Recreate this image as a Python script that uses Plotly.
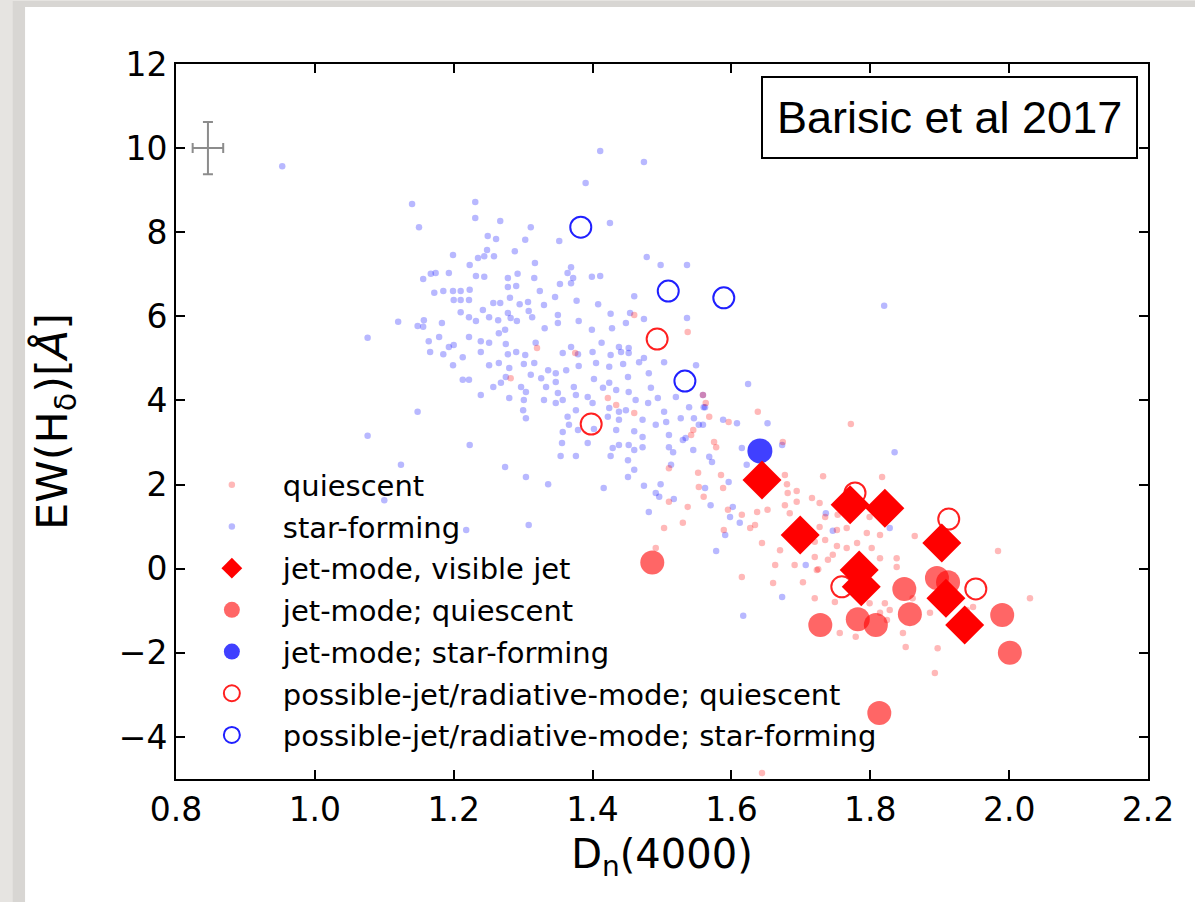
import plotly.graph_objects as go

# ---------------- data ----------------
sf_x = [0.953, 1.140, 1.150, 1.199, 1.156, 1.167, 1.174, 1.193, 1.172, 1.185, 1.199, 1.200, 1.120, 1.148,
        1.156, 1.157, 1.183, 1.076, 1.164, 1.179, 1.193, 1.200, 1.166, 1.185, 1.199, 1.148, 1.076, 1.124,
        1.100, 1.411, 1.474, 1.390, 1.231, 1.231, 1.267, 1.311, 1.425, 1.249, 1.261, 1.303, 1.352, 1.248,
        1.288, 1.235, 1.244, 1.258, 1.223, 1.317, 1.478, 1.498, 1.536, 1.369, 1.364, 1.372, 1.369, 1.353,
        1.399, 1.411, 1.232, 1.244, 1.278, 1.292, 1.316, 1.290, 1.278, 1.324, 1.346, 1.377, 1.408, 1.460,
        1.210, 1.223, 1.210, 1.222, 1.281, 1.295, 1.307, 1.330, 1.257, 1.267, 1.242, 1.251, 1.264, 1.278,
        1.282, 1.210, 1.222, 1.232, 1.308, 1.313, 1.291, 1.350, 1.350, 1.380, 1.426, 1.454, 1.448, 1.474,
        1.536, 1.274, 1.265, 1.331, 1.399, 1.428, 1.222, 1.239, 1.251, 1.275, 1.318, 1.369, 1.413, 1.438,
        1.452, 1.213, 1.239, 1.278, 1.290, 1.303, 1.357, 1.379, 1.400, 1.426, 1.441, 1.452, 1.474, 1.503,
        1.549, 1.251, 1.265, 1.280, 1.301, 1.316, 1.336, 1.347, 1.362, 1.380, 1.405, 1.424, 1.444, 1.467,
        1.481, 1.213, 1.222, 1.275, 1.311, 1.326, 1.347, 1.402, 1.424, 1.451, 1.239, 1.257, 1.268, 1.297,
        1.304, 1.333, 1.350, 1.357, 1.373, 1.376, 1.393, 1.415, 1.434, 1.452, 1.484, 1.280, 1.301, 1.330,
        1.347, 1.400, 1.424, 1.438, 1.448, 1.462, 1.480, 1.494, 1.503, 1.520, 1.539, 1.560, 1.300, 1.304,
        1.364, 1.376, 1.422, 1.438, 1.472, 1.491, 1.506, 1.527, 1.546, 1.553, 1.588, 1.357, 1.366, 1.379,
        1.402, 1.434, 1.460, 1.472, 1.510, 1.530, 1.534, 1.545, 1.568, 1.223, 1.356, 1.393, 1.429, 1.438,
        1.452, 1.460, 1.472, 1.510, 1.516, 1.354, 1.376, 1.426, 1.451, 1.513, 1.274, 1.460, 1.304, 1.336,
        1.451, 1.416, 1.474, 1.498, 1.491, 1.496, 1.517, 1.570, 1.596, 1.602, 1.481, 1.591, 1.578, 1.308,
        1.218, 1.624, 1.559, 1.562, 1.559, 1.608, 1.652, 1.615, 1.673, 1.572, 1.622, 1.562, 1.598, 1.612,
        1.736, 1.746, 1.828, 1.707, 1.673, 1.617, 1.835, 1.820]
sf_y = [9.57, 8.67, 8.12, 7.46, 6.89, 7.01, 7.03, 7.03, 6.56, 6.60, 6.60, 6.39, 5.87, 5.77,
        5.75, 5.91, 5.84, 5.49, 5.41, 5.51, 5.27, 5.32, 5.15, 5.10, 4.84, 3.73, 3.16, 2.47,
        1.63, 9.93, 9.67, 9.17, 8.72, 8.34, 8.27, 8.12, 8.22, 7.91, 7.84, 7.82, 7.79, 7.58,
        7.55, 7.39, 7.43, 7.43, 7.22, 7.27, 7.41, 7.22, 7.22, 7.17, 7.03, 6.91, 6.79, 6.77,
        6.94, 6.96, 6.96, 6.94, 6.91, 7.01, 6.91, 6.72, 6.70, 6.60, 6.46, 6.37, 6.29, 6.48,
        6.60, 6.63, 6.39, 6.39, 6.44, 6.29, 6.34, 6.27, 6.32, 6.32, 6.15, 5.98, 5.91, 6.08,
        5.96, 6.10, 5.98, 5.89, 6.13, 5.98, 5.89, 6.03, 5.84, 5.89, 6.06, 6.08, 5.84, 5.94,
        5.96, 5.68, 5.60, 5.72, 5.68, 5.72, 5.51, 5.41, 5.37, 5.34, 5.37, 5.27, 5.37, 5.27,
        5.25, 5.03, 5.15, 5.10, 5.15, 5.08, 5.13, 5.10, 5.15, 5.08, 5.15, 5.13, 5.01, 4.91,
        4.84, 4.84, 4.89, 4.77, 4.87, 4.89, 4.72, 4.65, 4.72, 4.82, 4.89, 4.80, 4.87, 4.91,
        4.65, 4.49, 4.49, 4.56, 4.61, 4.53, 4.44, 4.51, 4.42, 4.56, 4.13, 4.32, 4.42, 4.32,
        4.20, 4.32, 4.18, 4.01, 4.32, 4.13, 4.08, 4.30, 4.25, 4.20, 4.30, 4.06, 4.01, 4.01,
        3.94, 3.94, 3.82, 3.73, 3.77, 4.01, 3.94, 4.06, 3.73, 4.08, 3.84, 3.84, 3.77, 3.58,
        3.61, 3.77, 3.61, 3.54, 3.54, 3.42, 3.49, 3.58, 3.58, 3.42, 3.54, 3.25, 3.42, 3.30,
        3.32, 3.30, 3.27, 3.13, 3.18, 3.06, 3.11, 2.82, 2.66, 2.94, 2.99, 2.99, 2.87, 2.94,
        2.94, 2.82, 2.89, 2.89, 2.77, 2.68, 2.68, 2.68, 2.58, 2.47, 2.42, 2.35, 2.18, 2.01,
        2.18, 1.92, 1.97, 2.01, 1.80, 1.71, 1.66, 1.51, 2.06, 1.47, 1.35, 0.80, 0.42, 1.04,
        0.92, 4.39, 4.13, 3.84, 3.42, 3.46, 3.46, 2.87, 2.94, 2.54, 2.47, 1.92, 1.23, 1.09,
        1.32, 0.90, 0.97, 0.09, -0.67, -1.12, 2.77, 6.25]

q_x = [1.460, 1.537, 1.320, 1.375, 1.282, 1.422, 1.434, 1.460, 1.559, 1.563, 1.568, 1.596, 1.545, 1.542,
       1.575, 1.578, 1.510, 1.552, 1.585, 1.553, 1.588, 1.560, 1.510, 1.537, 1.595, 1.530, 1.503, 1.589,
       1.491, 1.638, 1.772, 1.674, 1.677, 1.732, 1.817, 1.680, 1.681, 1.694, 1.677, 1.694, 1.716, 1.727,
       1.615, 1.637, 1.652, 1.627, 1.634, 1.644, 1.684, 1.735, 1.753, 1.727, 1.752, 1.766, 1.799, 1.795,
       1.814, 1.781, 1.802, 1.864, 1.984, 1.720, 1.735, 1.752, 1.766, 1.746, 1.720, 1.739, 1.670, 1.663,
       1.691, 1.723, 1.814, 1.838, 1.838, 1.615, 1.660, 1.703, 1.720, 1.749, 1.799, 1.821, 1.828, 1.814,
       1.824, 1.861, 1.886, 2.030, 1.939, 1.948, 1.756, 1.779, 1.847, 1.851, 1.897, 1.893, 1.644, 1.725]
q_y = [6.03, 5.63, 5.25, 5.13, 4.53, 4.06, 3.89, 3.70, 4.13, 3.94, 3.61, 3.49, 3.30, 3.18,
       3.01, 2.89, 2.39, 2.28, 2.23, 1.94, 1.92, 1.71, 1.59, 1.47, 1.40, 1.09, 0.97, 0.92,
       0.49, 3.73, 3.44, 3.01, 2.23, 2.20, 2.18, 2.01, 1.80, 1.85, 1.51, 1.59, 1.68, 1.56,
       1.28, 1.35, 1.40, 0.97, 1.04, 0.61, 1.32, 1.23, 1.28, 0.99, 0.92, 0.97, 1.23, 0.85,
       0.80, 0.61, 0.49, 0.78, 0.42, 0.64, 0.68, 0.54, 0.49, 0.33, 0.28, 0.21, 0.44, 0.09,
       0.09, -0.03, 0.25, 0.25, 0.04, -0.20, -0.34, -0.32, -0.70, -0.79, -0.82, -0.82, -0.98, -1.05,
       -1.22, -0.70, -1.05, -0.70, -0.98, -0.91, -1.53, -1.62, -1.53, -1.86, -1.89, -2.48, -4.86, -0.01]

jet_vis_x = [1.644, 1.699, 1.771, 1.821, 1.903, 1.784, 1.787, 1.909, 1.936]
jet_vis_y = [2.11, 0.80, 1.52, 1.44, 0.61, -0.03, -0.43, -0.70, -1.34]

jet_q_x = [1.486, 1.728, 1.782, 1.808, 1.849, 1.857, 1.896, 1.912, 1.990, 2.001, 1.813]
jet_q_y = [0.15, -1.34, -1.20, -1.34, -0.48, -1.08, -0.22, -0.32, -1.10, -2.00, -3.43]

jet_sf_x = [1.641]
jet_sf_y = [2.80]

pos_q_x = [1.493, 1.398, 1.778, 1.913, 1.952, 1.759]
pos_q_y = [5.46, 3.44, 1.80, 1.18, -0.48, -0.43]

pos_sf_x = [1.383, 1.509, 1.589, 1.533]
pos_sf_y = [8.12, 6.60, 6.44, 4.46]

err_x, err_y = [0.846], [10.0]
err_dx, err_dy = [0.022], [0.62]

legend_names = ["quiescent", "star-forming", "jet-mode, visible jet", "jet-mode; quiescent",
                "jet-mode; star-forming", "possible-jet/radiative-mode; quiescent",
                "possible-jet/radiative-mode; star-forming"]

x_ticks = [0.8, 1.0, 1.2, 1.4, 1.6, 1.8, 2.0, 2.2]
y_ticks = [-4, -2, 0, 2, 4, 6, 8, 10, 12]

# ---------------- figure ----------------
FONT = "DejaVu Sans"
fig = go.Figure()

fig.add_trace(go.Scatter(x=sf_x, y=sf_y, mode="markers", name=legend_names[1], legendrank=2,
                         legendgroup="g2",
                         marker=dict(size=6.5, color="rgba(0,0,255,0.28)", line=dict(width=0))))
fig.add_trace(go.Scatter(x=q_x, y=q_y, mode="markers", name=legend_names[0], legendrank=1,
                         legendgroup="g1",
                         marker=dict(size=6.5, color="rgba(255,0,0,0.28)", line=dict(width=0))))
fig.add_trace(go.Scatter(x=pos_q_x, y=pos_q_y, mode="markers", name=legend_names[5], legendrank=6,
                         legendgroup="g6",
                         marker=dict(size=21, color="#ff2020", symbol="circle-open",
                                     line=dict(width=2))))
fig.add_trace(go.Scatter(x=pos_sf_x, y=pos_sf_y, mode="markers", name=legend_names[6], legendrank=7,
                         legendgroup="g7",
                         marker=dict(size=21, color="#2020ff", symbol="circle-open",
                                     line=dict(width=2))))
fig.add_trace(go.Scatter(x=jet_q_x, y=jet_q_y, mode="markers", name=legend_names[3], legendrank=4,
                         legendgroup="g4",
                         marker=dict(size=24, color="rgba(255,0,0,0.6)", line=dict(width=0))))
fig.add_trace(go.Scatter(x=jet_sf_x, y=jet_sf_y, mode="markers", name=legend_names[4], legendrank=5,
                         legendgroup="g5",
                         marker=dict(size=25, color="rgba(0,0,255,0.75)", line=dict(width=0))))
fig.add_trace(go.Scatter(x=jet_vis_x, y=jet_vis_y, mode="markers", name=legend_names[2], legendrank=3,
                         legendgroup="g3",
                         marker=dict(size=30, symbol="diamond", color="#ff0000", line=dict(width=0))))
fig.add_trace(go.Scatter(x=err_x, y=err_y, mode="markers", showlegend=False, hoverinfo="skip",
                         marker=dict(size=1, color="rgba(0,0,0,0)"),
                         error_x=dict(type="data", array=err_dx, color="#8c8c8c", thickness=2, width=5),
                         error_y=dict(type="data", array=err_dy, color="#8c8c8c", thickness=2, width=5)))

# page look: grey background with a white card and a soft shadow
fig.add_shape(type="rect", xref="paper", yref="paper", x0=-0.168, x1=1.06, y0=-0.19, y1=1.088,
              fillcolor="rgba(0,0,0,0.06)", line=dict(width=0), layer="below")
fig.add_shape(type="rect", xref="paper", yref="paper", x0=-0.1553, x1=1.06, y0=-0.19, y1=1.0797,
              fillcolor="white", line=dict(width=0), layer="below")

fig.add_annotation(text="Barisic et al 2017", xref="paper", yref="paper", x=0.9897, y=0.983,
                   xanchor="right", yanchor="top", showarrow=False,
                   font=dict(family="Liberation Sans, Arial", size=45, color="black"),
                   bordercolor="black", borderwidth=2, borderpad=14, bgcolor="white")

axis_common = dict(showline=True, linecolor="black", linewidth=2, mirror="ticks", ticks="inside",
                   ticklen=9, tickwidth=1.5, tickcolor="black", showgrid=False, zeroline=False,
                   tickfont=dict(family=FONT, size=33, color="black"))

fig.update_xaxes(range=[0.8, 2.2], tickvals=x_ticks, ticktext=[f"{v:.1f}" for v in x_ticks],
                 title=dict(text="D<sub>n</sub>(4000)", font=dict(family=FONT, size=40, color="black"),
                            standoff=12),
                 **axis_common)
fig.update_yaxes(range=[-5, 12], tickvals=y_ticks,
                 title=dict(text="EW(H<sub>δ</sub>)[<i>Å</i>]", font=dict(family=FONT, size=43, color="black"),
                            standoff=38),
                 **axis_common)

fig.update_layout(
    width=1195, height=902,
    margin=dict(l=176, r=47, t=64, b=123, autoexpand=False),
    paper_bgcolor="#e6e4e1", plot_bgcolor="white",
    showlegend=True,
    legend=dict(x=0.005, y=0.447, xanchor="left", yanchor="top", bgcolor="rgba(0,0,0,0)",
                font=dict(family=FONT, size=29, color="black"), itemwidth=92,
                tracegroupgap=1, itemsizing="trace"),
)

fig.write_html("out.html")
